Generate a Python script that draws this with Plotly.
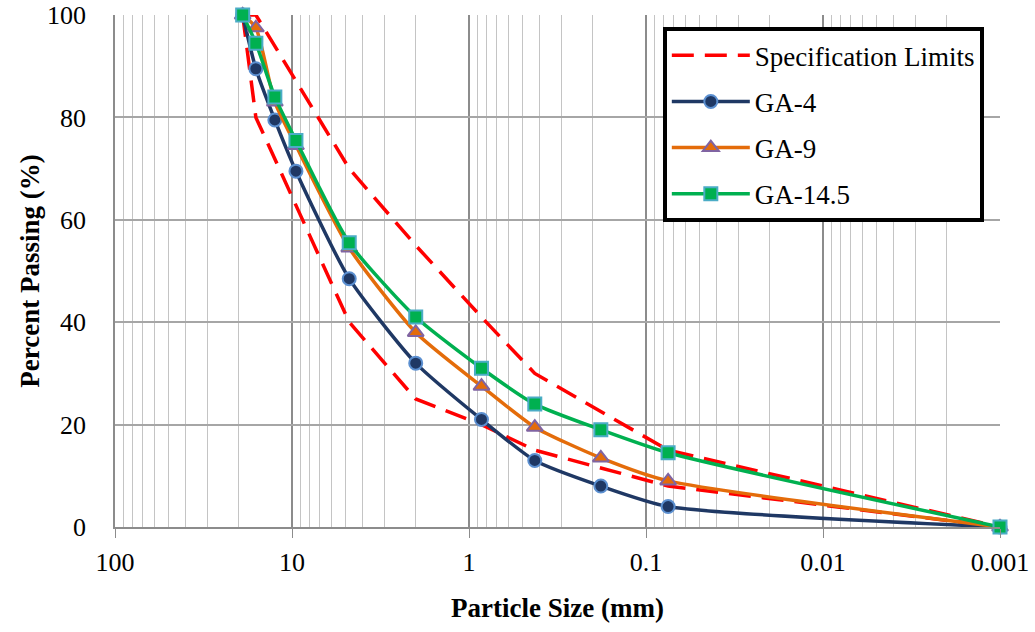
import plotly.graph_objects as go

# Data
sizes = [19, 16, 12.5, 9.5, 4.75, 2.0, 0.85, 0.425, 0.18, 0.075, 0.001]
ga4 = [100, 89.5, 79.5, 69.5, 48.5, 32, 21, 13, 8, 4, 0]
ga9 = [100, 97.5, 83, 74.5, 54.5, 38, 27.5, 19.5, 13.5, 9, 0]
ga145 = [100, 94.5, 84, 75.5, 55.5, 41, 31, 24, 19, 14.5, 0]

spec_upper_x = [19, 16, 4.75, 2.0, 0.85, 0.425, 0.075, 0.001]
spec_upper_y = [100, 100, 70, 55, 41, 30, 15, 0]
spec_lower_x = [19, 16, 4.75, 2.0, 0.85, 0.425, 0.075, 0.001]
spec_lower_y = [100, 80, 40, 25, 20, 15, 8, 0]

x_tickvals = [100, 10, 1, 0.1, 0.01, 0.001]
x_ticktext = ["100", "10", "1", "0.1", "0.01", "0.001"]
y_tickvals = [0, 20, 40, 60, 80, 100]

FONT = "Liberation Serif"
fig = go.Figure()

spec_line = dict(color="#FF0000", width=3.5, dash="22px,11px")
fig.add_trace(go.Scatter(x=spec_upper_x, y=spec_upper_y, mode="lines", name="Specification Limits",
                         line=spec_line, legendgroup="spec"))
fig.add_trace(go.Scatter(x=spec_lower_x, y=spec_lower_y, mode="lines", name="Specification Limits",
                         line=spec_line, legendgroup="spec", showlegend=False))

fig.add_trace(go.Scatter(x=sizes, y=ga4, mode="lines+markers", name="GA-4", legendgroup="ga4",
                         cliponaxis=False,
                         line=dict(color="#1F3864", width=3.5, shape="spline", smoothing=0.6),
                         marker=dict(symbol="circle", size=13, color="#1F3864",
                                     line=dict(color="#5B8FD0", width=2))))
fig.add_trace(go.Scatter(x=sizes, y=ga9, mode="lines+markers", name="GA-9", legendgroup="ga9",
                         cliponaxis=False,
                         line=dict(color="#E46C0A", width=3.5, shape="spline", smoothing=0.6),
                         marker=dict(symbol="triangle-up", size=14, color="#E46C0A",
                                     line=dict(color="#8064A2", width=2))))
fig.add_trace(go.Scatter(x=sizes, y=ga145, mode="lines+markers", name="GA-14.5", legendgroup="ga145",
                         cliponaxis=False,
                         line=dict(color="#00B050", width=3.5, shape="spline", smoothing=0.6),
                         marker=dict(symbol="square", size=13, color="#00B050",
                                     line=dict(color="#4BACC6", width=2))))

fig.update_layout(
    width=1035, height=632,
    margin=dict(l=115, r=35, t=15, b=105),
    paper_bgcolor="white", plot_bgcolor="white",
    font=dict(family=FONT, size=26, color="black"),
    legend=dict(x=0.619, y=0.976, xanchor="left", yanchor="top",
                bordercolor="black", borderwidth=4, bgcolor="white",
                font=dict(family=FONT, size=27), traceorder="grouped",
                tracegroupgap=8, itemwidth=78),
    xaxis=dict(type="log", range=[2, -3], tickvals=x_tickvals, ticktext=x_ticktext,
               showgrid=True, gridcolor="#8C8C8C", gridwidth=1.5,
               minor=dict(showgrid=True, gridcolor="#C4C4C4", gridwidth=1.2, dtick="D1", ticks=""),
               showline=True, linecolor="#8C8C8C", linewidth=1.5,
               ticks="outside", ticklen=9, tickcolor="#8C8C8C",
               ticklabelstandoff=2, tickfont=dict(size=26), automargin=False,
               title=dict(text="<b>Particle Size (mm)</b>", font=dict(size=27), standoff=22),
               zeroline=False),
    yaxis=dict(range=[0, 100], tickvals=y_tickvals, showgrid=True, gridcolor="#A6A6A6", gridwidth=1.5,
               showline=True, linecolor="#8C8C8C", linewidth=1.5,
               ticks="", ticklabelstandoff=22, tickfont=dict(size=26), automargin=False,
               title=dict(text="<b>Percent Passing (%)</b>", font=dict(size=27), standoff=0),
               zeroline=False),
)

fig.write_html("out.html")
